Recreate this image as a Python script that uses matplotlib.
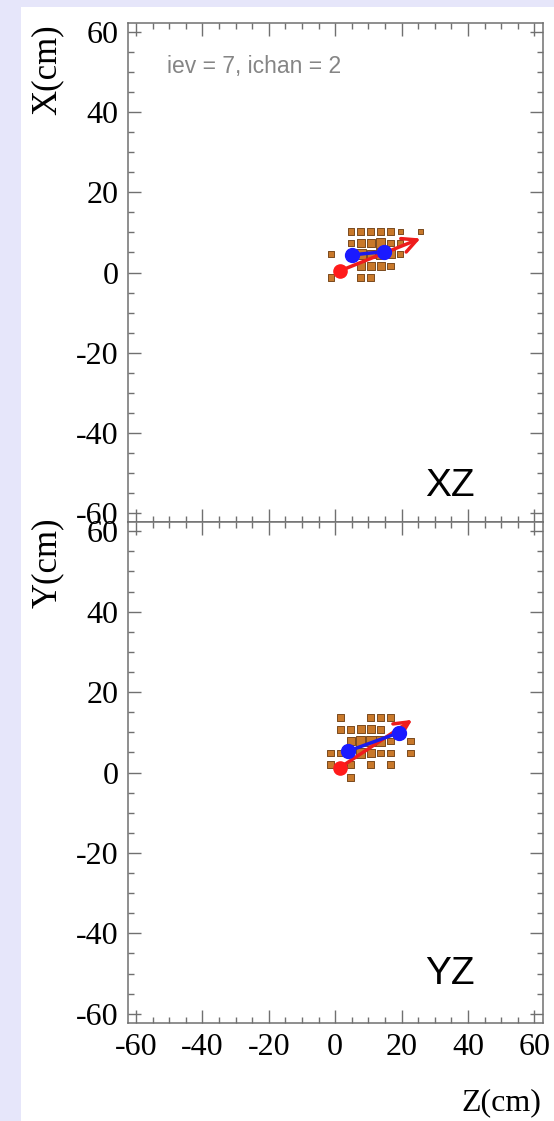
import matplotlib
matplotlib.use('Agg')
import matplotlib.pyplot as plt
from matplotlib.patches import Rectangle
from matplotlib.ticker import MultipleLocator

plt.rcParams['axes.unicode_minus'] = False

# event display, two projections of the same event
label_text = 'iev = 7, ichan = 2'

# XZ view hits: z (cm), x (cm), charge level
xz_hit_z = [4.7, 7.7, 10.7, 13.7, 16.7, 19.6, 25.6,
            4.7, 7.7, 10.7, 13.7, 16.7, 19.6,
            -1.3, 4.7, 7.7, 10.7, 13.7, 16.7, 19.6,
            7.7, 10.7, 13.7, 16.7,
            -1.3, 7.7, 10.7]
xz_hit_x = [10.2, 10.2, 10.2, 10.2, 10.2, 10.2, 10.2,
            7.4, 7.4, 7.4, 7.4, 7.4, 7.4,
            4.6, 4.6, 4.6, 4.6, 4.6, 4.6, 4.6,
            1.6, 1.6, 1.6, 1.6,
            -1.3, -1.3, -1.3]
xz_hit_q = [2, 2, 2, 2, 2, 1, 1,
            2, 3, 3, 4, 2, 2,
            2, 3, 4, 3, 4, 3, 2,
            3, 3, 3, 2,
            2, 2, 2]

# YZ view hits: z (cm), y (cm), charge level
yz_hit_z = [1.65, 10.7, 13.7, 16.7,
            1.65, 4.66, 7.67, 10.7, 13.7,
            4.66, 7.67, 10.7, 13.7, 16.7, 22.7,
            -1.35, 1.65, 7.67, 10.7, 13.7, 16.7, 22.7,
            -1.35, 4.66, 10.7, 16.7,
            4.66]
yz_hit_y = [13.7, 13.7, 13.7, 13.7,
            10.75, 10.75, 10.75, 10.75, 10.75,
            7.8, 7.8, 7.8, 7.8, 7.8, 7.8,
            4.9, 4.9, 4.9, 4.9, 4.9, 4.9, 4.9,
            2.0, 2.0, 2.0, 2.0,
            -1.3]
yz_hit_q = [2, 2, 2, 2,
            2, 2, 3, 3, 2,
            3, 4, 4, 4, 2, 2,
            2, 2, 4, 3, 2, 2, 2,
            2, 2, 2, 2,
            2]

# vertex, reconstructed track points and direction arrow tips
vtx_xz = (1.4, 0.4)
vtx_yz = (1.4, 1.2)
trk_xz_z = [5.2, 14.7]
trk_xz_x = [4.4, 5.2]
trk_yz_z = [3.85, 19.2]
trk_yz_y = [5.3, 9.9]
dir_xz = (25.7, 8.5)
dir_yz = (23.2, 13.1)

q_size = {1: 14, 2: 22, 3: 34, 4: 48}

serif = 'Liberation Serif'
axcol = '#707070'


def draw_view(ax, hz, hv, hq, vtx, tz, tv, tip, name, name_y):
    ax.scatter(hz, hv, s=[q_size[q] for q in hq], marker='s',
               facecolor='#c8782a', edgecolor='#7a4a1e', linewidth=0.7, zorder=2)
    ax.annotate('', xy=tip, xytext=vtx,
                arrowprops=dict(arrowstyle='->', color='#ee1c1c', lw=2.5,
                                mutation_scale=26, shrinkA=0, shrinkB=0),
                zorder=3)
    ax.plot(tz, tv, color='#1a1aee', lw=2.5, zorder=4)
    ax.plot(tz, tv, 'o', color='#1a1aff', ms=10, zorder=5)
    ax.plot([vtx[0]], [vtx[1]], 'o', color='#ff1a1a', ms=9.5, zorder=5)

    ax.set_xlim(-62.4, 62.6)
    ax.set_ylim(-62.3, 62.3)
    ax.xaxis.set_major_locator(MultipleLocator(20))
    ax.xaxis.set_minor_locator(MultipleLocator(5))
    ax.yaxis.set_major_locator(MultipleLocator(20))
    ax.yaxis.set_minor_locator(MultipleLocator(5))
    ax.tick_params(which='both', direction='in', top=True, right=True, color=axcol)
    ax.tick_params(which='major', length=9.5, width=1)
    ax.tick_params(which='minor', length=4.5, width=1)
    ax.tick_params(axis='y', labelsize=23, pad=7)
    ax.tick_params(axis='x', labelsize=23, pad=7)
    for lab in ax.get_xticklabels() + ax.get_yticklabels():
        lab.set_fontfamily(serif)
    for sp in ax.spines.values():
        sp.set_color(axcol)
        sp.set_linewidth(1.1)
    ax.text(0.776, name_y, name, transform=ax.transAxes, ha='center', va='center',
            fontsize=28, family='Liberation Sans', color='black')


fig = plt.figure(figsize=(5.54, 11.21), dpi=100, facecolor='#e6e6fa')
# white canvas area inside the lavender frame
fig.patches.append(Rectangle((21 / 554, 0), 1, 1 - 7 / 1121, transform=fig.transFigure,
                             facecolor='white', edgecolor='none', zorder=-10))

ax1 = fig.add_axes([128 / 554, 1 - 522 / 1121, 415 / 554, 499 / 1121])
ax2 = fig.add_axes([128 / 554, 1 - 1023 / 1121, 415 / 554, 501 / 1121])

draw_view(ax1, xz_hit_z, xz_hit_x, xz_hit_q, vtx_xz, trk_xz_z, trk_xz_x, dir_xz, 'XZ', 0.072)
draw_view(ax2, yz_hit_z, yz_hit_y, yz_hit_q, vtx_yz, trk_yz_z, trk_yz_y, dir_yz, 'YZ', 0.098)
ax1.tick_params(axis='x', labelbottom=False)

ax1.text(0.095, 0.912, label_text, transform=ax1.transAxes, ha='left', va='center',
         fontsize=16.5, family='Liberation Sans', color='#858585')

fig.text(47 / 554, 1 - 70 / 1121, 'X(cm)', rotation=90, ha='center', va='center',
         fontsize=25, family=serif)
fig.text(47 / 554, 1 - 563 / 1121, 'Y(cm)', rotation=90, ha='center', va='center',
         fontsize=25, family=serif)
fig.text(541 / 554, 1 - 1103 / 1121, 'Z(cm)', ha='right', va='center',
         fontsize=23, family=serif)

fig.savefig('out.png', dpi=100, facecolor=fig.get_facecolor())
